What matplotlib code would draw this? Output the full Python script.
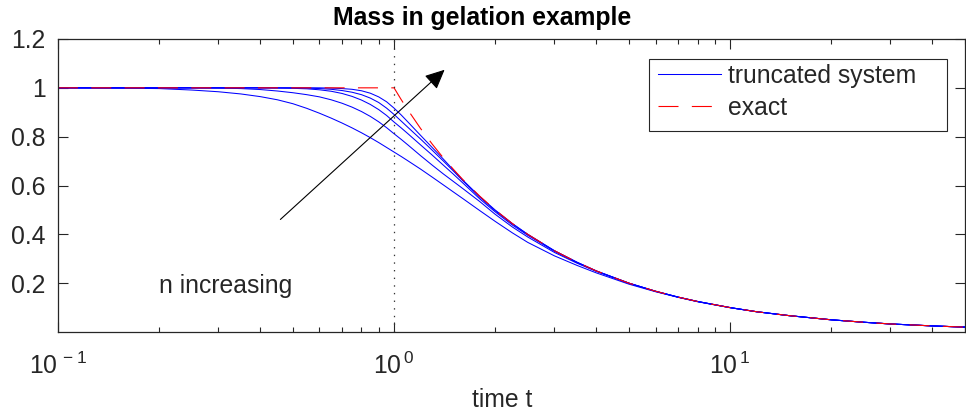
import numpy as np
import matplotlib.pyplot as plt
from matplotlib.lines import Line2D
from matplotlib.patches import Rectangle
from matplotlib.ticker import FixedLocator, FixedFormatter, LogLocator, NullFormatter

plt.rcParams['font.family'] = ['Liberation Sans', 'DejaVu Sans']
plt.rcParams['mathtext.fontset'] = 'custom'
plt.rcParams['mathtext.rm'] = 'Liberation Sans'
plt.rcParams['lines.scale_dashes'] = False

# time grid shared by all curves
t = [0.1, 0.15, 0.2, 0.25, 0.3, 0.35, 0.4, 0.45, 0.5, 0.55, 0.6, 0.65, 0.7,
     0.75, 0.8, 0.85, 0.9, 0.95, 1.0, 1.05, 1.1, 1.2, 1.3, 1.4, 1.5, 1.6,
     1.8, 2.0, 2.25, 2.5, 3.0, 3.5, 4.0, 5.0, 6.0, 7.0, 8.0, 10.0, 12.0,
     15.0, 20.0, 25.0, 30.0, 40.0, 50.0]

# exact mass
m_exact = [1.0] * 19 + [0.952, 0.909, 0.833, 0.769, 0.714, 0.667, 0.625,
                        0.556, 0.500, 0.444, 0.400, 0.333, 0.286, 0.250,
                        0.200, 0.167, 0.143, 0.125, 0.100, 0.083, 0.067,
                        0.050, 0.040, 0.033, 0.025, 0.020]

tail = [0.083, 0.067, 0.050, 0.040, 0.033, 0.025, 0.020]

# truncated systems, smallest n first
m_n1 = [1.000, 0.999, 0.997, 0.991, 0.984, 0.975, 0.964, 0.951, 0.935, 0.916,
        0.896, 0.876, 0.856, 0.836, 0.816, 0.796, 0.776, 0.756, 0.737, 0.719,
        0.701, 0.667, 0.634, 0.603, 0.574, 0.547, 0.497, 0.453, 0.406, 0.367,
        0.312, 0.273, 0.242, 0.196, 0.165, 0.142, 0.124, 0.0995] + tail
m_n2 = [1.0, 1.0, 1.0, 1.0, 0.999, 0.997, 0.993, 0.987, 0.980, 0.972,
        0.963, 0.951, 0.937, 0.921, 0.903, 0.883, 0.861, 0.837, 0.812, 0.789,
        0.766, 0.722, 0.683, 0.648, 0.617, 0.588, 0.534, 0.482, 0.430, 0.389,
        0.326, 0.282, 0.248, 0.1995, 0.1665, 0.1428, 0.125, 0.100] + tail
m_n3 = [1.0, 1.0, 1.0, 1.0, 1.0, 1.0, 1.0, 0.999, 0.998, 0.996,
        0.992, 0.986, 0.977, 0.965, 0.950, 0.932, 0.911, 0.887, 0.860, 0.836,
        0.812, 0.766, 0.724, 0.684, 0.647, 0.611, 0.545, 0.492, 0.438, 0.396,
        0.331, 0.2845, 0.2495, 0.200, 0.167, 0.143, 0.125, 0.100] + tail
m_n4 = [1.0, 1.0, 1.0, 1.0, 1.0, 1.0, 1.0, 1.0, 1.0, 0.999,
        0.997, 0.994, 0.989, 0.982, 0.972, 0.958, 0.940, 0.917, 0.891, 0.864,
        0.838, 0.790, 0.744, 0.701, 0.660, 0.620, 0.552, 0.497, 0.443, 0.3995,
        0.333, 0.286, 0.250, 0.200, 0.167, 0.143, 0.125, 0.100] + tail
m_n5 = [1.0, 1.0, 1.0, 1.0, 1.0, 1.0, 1.0, 1.0, 1.0, 1.0,
        1.0, 0.999, 0.997, 0.994, 0.988, 0.978, 0.963, 0.943, 0.917, 0.889,
        0.860, 0.805, 0.755, 0.709, 0.6645, 0.623, 0.5545, 0.4995, 0.444, 0.400,
        0.333, 0.286, 0.250, 0.200, 0.167, 0.143, 0.125, 0.100] + tail

y_ticks = [0.2, 0.4, 0.6, 0.8, 1.0, 1.2]
y_labels = ['0.2', '0.4', '0.6', '0.8', '1', '1.2']
x_ticks = [0.1, 1.0, 10.0]
x_labels = [r'$10^{\,-1}$', r'$10^{\,0}$', r'$10^{\,1}$']

fs = 17.8
dark = '#262626'
blue = '#0000ff'
red = '#ff0000'
red_dash = (14.4, 9.6)

fig = plt.figure(figsize=(9.66, 4.18), dpi=100)
ax = fig.add_axes([0.060, 0.2057, 0.939, 0.701])

for m in [m_n1, m_n2, m_n3, m_n4, m_n5]:
    ax.plot(t, m, color=blue, lw=0.75)
ax.plot(t, m_exact, color=red, lw=0.8, dashes=red_dash)
ax.axvline(1.0, color='#333333', lw=0.9, ls=(0, (1, 4.5)))

ax.set_xscale('log')
ax.set_xlim(0.1, 50)
ax.set_ylim(0, 1.2)
ax.xaxis.set_major_locator(FixedLocator(x_ticks))
ax.xaxis.set_major_formatter(FixedFormatter(x_labels))
ax.xaxis.set_minor_locator(LogLocator(base=10, subs=np.arange(2, 10)))
ax.xaxis.set_minor_formatter(NullFormatter())
ax.set_yticks(y_ticks)
ax.set_yticklabels(y_labels)

ax.tick_params(which='both', direction='in', top=True, right=True,
               color=dark, labelcolor=dark, labelsize=fs, width=0.8)
ax.tick_params(which='major', length=7.5)
ax.tick_params(which='minor', length=3.5)
ax.tick_params(axis='x', pad=14.5)
ax.tick_params(axis='y', pad=9)
for s in ax.spines.values():
    s.set_color(dark)
    s.set_linewidth(0.9)

ax.set_title('Mass in gelation example', fontsize=fs, fontweight='bold',
             color='k', pad=10, x=0.468)
ax.set_xlabel('time t', fontsize=fs, color=dark)
ax.xaxis.set_label_coords(0.49, -0.233)
ax.xaxis.label.set_va('center')

ax.annotate('', xy=(1.414, 1.074), xytext=(0.459, 0.461),
            arrowprops=dict(arrowstyle='-|>,head_length=0.6,head_width=0.28',
                            color='k', lw=0.8, mutation_scale=20,
                            shrinkA=0, shrinkB=0))
ax.text(0.2, 0.187, 'n increasing', fontsize=fs, color=dark, va='center')

# legend box drawn separately so its padding can be set freely
ax.add_patch(Rectangle((0.6516, 0.686), 0.3286, 0.2457, transform=ax.transAxes,
                       facecolor='white', edgecolor=dark, lw=0.8, zorder=4))
handles = [Line2D([], [], color=blue, lw=0.75),
           Line2D([], [], color=red, lw=0.8, dashes=red_dash)]
leg = ax.legend(handles, ['truncated system', 'exact'], loc='upper left',
                bbox_to_anchor=(0.6615, 0.915), fontsize=fs, frameon=False,
                borderpad=0, labelspacing=0.32, handlelength=2.55,
                handletextpad=0.3, borderaxespad=0)
leg.set_zorder(5)
for txt in leg.get_texts():
    txt.set_color(dark)

fig.savefig('out.png', dpi=100)
